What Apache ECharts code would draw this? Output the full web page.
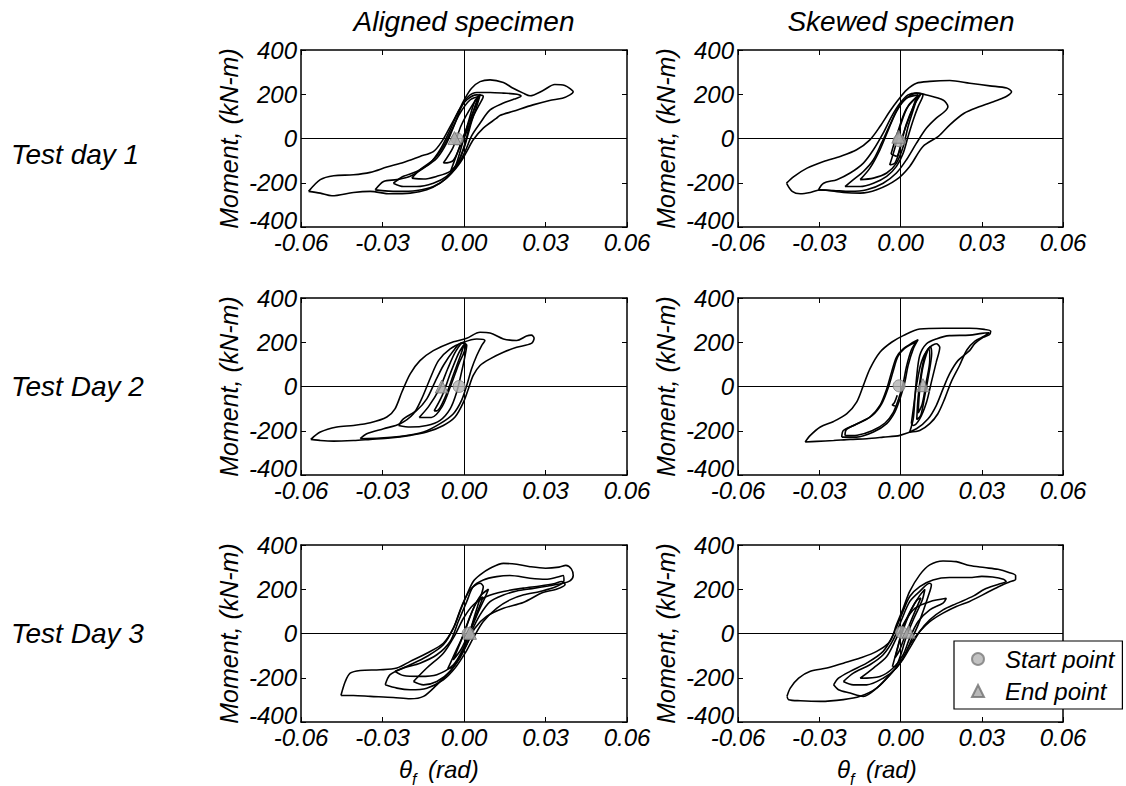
<!DOCTYPE html>
<html>
<head>
<meta charset="utf-8">
<script src="https://cdn.jsdelivr.net/npm/echarts@6/dist/echarts.min.js"></script>
<style>html,body{margin:0;padding:0;background:#fff}#c{width:1126px;height:786px}</style>
</head>
<body>
<div id="c"></div>
<script>
// ---------- DATA (theta [rad], moment [kN-m]) ----------
const columnTitles = ['Aligned specimen', 'Skewed specimen'];
const rowTitles = ['Test day 1', 'Test Day 2', 'Test Day 3'];
const xTickValues = [-0.06, -0.03, 0.00, 0.03, 0.06];
const yTickValues = [-400, -200, 0, 200, 400];
const yAxisName = 'Moment, (kN-m)';
const legendNames = ['Start point', 'End point'];

// Aligned, day 1
const a1Loop1 = [[-0.0572,-239],[-0.0529,-186],[-0.048,-168],[-0.0407,-164],[-0.0345,-153],[-0.0284,-129],[-0.0223,-108],[-0.0162,-81],[-0.0113,-59],[-0.0082,-14],[-0.0051,54],[-0.0021,122],[0.0004,182],[0.0028,227],[0.0059,257],[0.0096,265],[0.0145,253],[0.0181,227],[0.0218,205],[0.0243,193],[0.0291,217],[0.0334,244],[0.0371,240],[0.0395,221],[0.0402,211],[0.039,197],[0.0362,182],[0.0315,172],[0.0254,152],[0.0181,123],[0.0132,104],[0.012,92],[0.0071,47],[0.0034,-6],[0.001,-59],[-0.0015,-111],[-0.0045,-156],[-0.0088,-202],[-0.0137,-232],[-0.0198,-247],[-0.0272,-250],[-0.0345,-239],[-0.0407,-244],[-0.0486,-259],[-0.0529,-247],[-0.0572,-239]];
const a1Loop2 = [[-0.0327,-232],[-0.0296,-194],[-0.0247,-186],[-0.0198,-171],[-0.0149,-134],[-0.01,-89],[-0.0064,-21],[-0.0033,69],[-0.0009,144],[0.0016,190],[0.0047,208],[0.0096,208],[0.0145,205],[0.0195,200],[0.021,192],[0.0185,178],[0.0145,160],[0.0096,129],[0.0059,69],[0.0028,12],[0.0004,-59],[-0.0027,-126],[-0.0064,-179],[-0.0113,-217],[-0.0174,-235],[-0.0247,-239],[-0.0327,-232]];
const a1Loop3 = [[-0.026,-202],[-0.0223,-171],[-0.0174,-149],[-0.0125,-111],[-0.0088,-51],[-0.0051,39],[-0.0021,122],[0.001,174],[0.0047,197],[0.0071,190],[0.0059,159],[0.0034,99],[0.0016,24],[-0.0002,-51],[-0.0027,-119],[-0.0064,-171],[-0.0113,-202],[-0.0174,-217],[-0.0223,-217],[-0.026,-202]];
const a1Loop4 = [[-0.0192,-179],[-0.0162,-141],[-0.0113,-96],[-0.0076,-36],[-0.0045,39],[-0.0015,114],[0.0022,174],[0.0053,190],[0.004,144],[0.0022,69],[0.0004,-21],[-0.0021,-104],[-0.0051,-149],[-0.01,-171],[-0.0149,-183],[-0.0192,-179]];
const a1Loop5 = [[-0.0076,-111],[-0.004,-40],[-0.001,60],[0.003,150],[0.0055,190],[0.005,170],[0.002,80],[-0.001,-20],[-0.004,-100],[-0.0076,-111]];
const a1Loop6 = [[-0.005,-150],[-0.002,-50],[0.001,50],[0.004,170],[0.006,200],[0.004,120],[0.0,0],[-0.003,-120],[-0.005,-150]];
const a1Start = [[-0.0025,-2]];
const a1End = [[-0.0035,2]];

// Skewed, day 1
const s1Loop1 = [[-0.0421,-202],[-0.0394,-172],[-0.0345,-134],[-0.0284,-104],[-0.0223,-81],[-0.0162,-51],[-0.0113,-6],[-0.0076,54],[-0.004,122],[-0.0009,174],[0.0022,219],[0.0059,250],[0.0108,258],[0.0182,262],[0.0256,250],[0.033,238],[0.0392,228],[0.041,211],[0.0392,191],[0.0355,172],[0.029,143],[0.0235,114],[0.0182,62],[0.014,10],[0.0083,-36],[0.0034,-126],[-0.0015,-186],[-0.0088,-232],[-0.0149,-247],[-0.0211,-244],[-0.0296,-232],[-0.0333,-244],[-0.037,-250],[-0.04,-239],[-0.0421,-202]];
const s1Loop2 = [[-0.0303,-232],[-0.0284,-202],[-0.0235,-186],[-0.0186,-156],[-0.0137,-111],[-0.01,-51],[-0.0064,24],[-0.0033,99],[-0.0002,159],[0.0028,197],[0.0059,205],[0.0096,197],[0.0157,174],[0.0175,144],[0.0163,122],[0.0132,92],[0.0096,47],[0.0059,-21],[0.0022,-96],[-0.0015,-156],[-0.0064,-202],[-0.0125,-232],[-0.0186,-239],[-0.0247,-235],[-0.0303,-232]];
const s1Loop3 = [[-0.0205,-217],[-0.0174,-186],[-0.0137,-149],[-0.01,-96],[-0.007,-21],[-0.0039,62],[-0.0009,137],[0.0022,182],[0.0059,205],[0.0083,197],[0.0065,144],[0.0047,84],[0.0028,9],[0.001,-66],[-0.0015,-126],[-0.0051,-171],[-0.01,-202],[-0.0149,-217],[-0.0205,-217]];
const s1Loop4 = [[-0.0149,-186],[-0.0113,-134],[-0.0076,-51],[-0.0045,39],[-0.0015,122],[0.0022,182],[0.0065,197],[0.0047,129],[0.0028,54],[0.001,-36],[-0.0015,-111],[-0.0051,-156],[-0.01,-179],[-0.0149,-186]];
const s1Loop5 = [[-0.004,-120],[-0.002,-40],[0.0,60],[0.003,150],[0.0075,200],[0.005,150],[0.002,60],[0.0,-40],[-0.002,-110],[-0.004,-120]];
const s1Loop6 = [[-0.0035,-70],[-0.001,30],[0.002,130],[0.006,190],[0.004,120],[0.001,20],[-0.0015,-80],[-0.0035,-70]];
const s1Start = [[-0.0005,-10]];
const s1End = [[-0.0008,8]];

// Aligned, day 2
const a2Loop1 = [[-0.0564,-239],[-0.0529,-206],[-0.0468,-183],[-0.0407,-176],[-0.0345,-164],[-0.0284,-138],[-0.0254,-101],[-0.0229,-26],[-0.0198,57],[-0.0162,117],[-0.0113,162],[-0.0051,197],[0.001,218],[0.0059,245],[0.0096,242],[0.0145,215],[0.0194,208],[0.023,228],[0.0248,232],[0.0258,218],[0.0248,195],[0.0194,177],[0.0145,155],[0.0096,125],[0.0059,95],[0.0034,50],[0.0016,-11],[-0.0002,-71],[-0.0033,-138],[-0.0076,-176],[-0.0137,-206],[-0.0198,-221],[-0.0272,-233],[-0.0345,-239],[-0.0407,-244],[-0.048,-247],[-0.0529,-244],[-0.0564,-239]];
const a2Loop2 = [[-0.0382,-236],[-0.0358,-214],[-0.0296,-191],[-0.0235,-168],[-0.0186,-123],[-0.0156,-56],[-0.0125,35],[-0.0094,117],[-0.0051,170],[-0.0002,200],[0.0047,215],[0.0077,208],[0.0065,185],[0.0047,140],[0.0028,80],[0.001,5],[-0.0009,-63],[-0.0039,-123],[-0.0088,-168],[-0.0149,-206],[-0.0223,-224],[-0.0309,-233],[-0.0382,-236]];
const a2Loop3 = [[-0.0241,-176],[-0.0223,-146],[-0.0174,-108],[-0.0137,-56],[-0.0107,20],[-0.0076,95],[-0.0039,162],[-0.0009,197],[0.001,188],[0.0004,140],[-0.0009,65],[-0.0027,-26],[-0.0051,-101],[-0.0088,-153],[-0.0137,-176],[-0.0198,-183],[-0.0241,-176]];
const a2Loop4 = [[-0.0165,-140],[-0.013,-90],[-0.009,-10],[-0.006,80],[-0.003,160],[0.0,200],[0.0005,180],[-0.002,100],[-0.005,0],[-0.008,-90],[-0.012,-140],[-0.0165,-140]];
const a2Loop5 = [[-0.011,-110],[-0.008,-40],[-0.005,60],[-0.002,150],[0.0,190],[-0.001,150],[-0.004,50],[-0.007,-50],[-0.01,-110],[-0.011,-110]];
const a2Start = [[-0.0018,0]];
const a2End = [[-0.0082,0]];

// Skewed, day 2
const s2Loop1 = [[-0.0352,-251],[-0.0333,-221],[-0.0296,-183],[-0.0247,-158],[-0.0198,-123],[-0.0162,-71],[-0.0137,5],[-0.0113,80],[-0.0076,155],[-0.0033,200],[0.001,230],[0.0071,260],[0.0157,263],[0.0255,263],[0.031,258],[0.0333,250],[0.0328,235],[0.0305,222],[0.0275,195],[0.0255,162],[0.0212,117],[0.0181,57],[0.0157,-11],[0.0132,-86],[0.0102,-146],[0.0059,-191],[-0.0002,-221],[-0.0064,-229],[-0.0125,-236],[-0.0186,-239],[-0.0247,-244],[-0.0309,-248],[-0.0352,-251]];
const s2Loop2 = [[-0.0217,-229],[-0.0211,-199],[-0.0174,-176],[-0.0113,-138],[-0.0076,-86],[-0.0051,-11],[-0.0033,65],[-0.0015,132],[0.001,170],[0.0047,200],[0.0065,212],[0.0047,170],[0.0028,95],[0.0016,20],[-0.0002,-56],[-0.0021,-116],[-0.0051,-168],[-0.01,-206],[-0.0162,-229],[-0.0217,-229]];
const s2Loop3 = [[-0.0205,-222],[-0.02,-195],[-0.0165,-172],[-0.0105,-132],[-0.007,-80],[-0.0045,-5],[-0.0027,70],[-0.001,135],[0.0015,172],[0.005,198],[0.006,205],[0.004,165],[0.0022,90],[0.001,15],[-0.0008,-60],[-0.0027,-118],[-0.0057,-165],[-0.0105,-200],[-0.016,-220],[-0.0205,-222]];
const s2Loop4 = [[0.0034,-206],[0.0047,-146],[0.0053,-56],[0.0059,35],[0.0071,140],[0.0096,193],[0.0132,215],[0.0181,230],[0.0255,232],[0.03,240],[0.0328,243],[0.031,228],[0.0275,205],[0.0245,165],[0.0218,95],[0.0187,20],[0.0163,-56],[0.0138,-123],[0.0108,-168],[0.0071,-199],[0.0034,-206]];
const s2Loop5 = [[0.004,-168],[0.0049,-86],[0.0059,5],[0.0077,110],[0.0102,170],[0.0132,193],[0.0145,177],[0.0132,110],[0.0114,20],[0.0096,-71],[0.0071,-146],[0.0047,-176],[0.004,-168]];
const s2Loop6 = [[0.006,-150],[0.0065,-50],[0.0075,50],[0.009,140],[0.011,180],[0.0115,150],[0.0105,60],[0.009,-40],[0.0075,-130],[0.006,-150]];
const s2Loop7 = [[0.0065,-120],[0.0072,0],[0.0085,100],[0.0105,170],[0.0108,120],[0.0095,20],[0.008,-80],[0.0065,-120]];
const s2Hook = [[-0.0012,-40],[-0.0022,-72],[-0.003,-84],[-0.0018,-88]];
const s2Start = [[-0.0005,3]];
const s2End = [[0.0083,6]];

// Aligned, day 3
const a3Loop1 = [[-0.0453,-280],[-0.0437,-217],[-0.0419,-179],[-0.0382,-167],[-0.0309,-164],[-0.0247,-156],[-0.0198,-126],[-0.0137,-89],[-0.0076,-44],[-0.0039,24],[-0.0015,99],[0.001,174],[0.0034,235],[0.0059,265],[0.0096,295],[0.0145,317],[0.0194,313],[0.0243,302],[0.03,295],[0.035,300],[0.0375,308],[0.0395,292],[0.0402,262],[0.039,238],[0.036,226],[0.031,215],[0.025,203],[0.0194,192],[0.0145,174],[0.0096,144],[0.0059,84],[0.0028,9],[0.001,-51],[-0.0015,-111],[-0.0051,-171],[-0.01,-232],[-0.0149,-284],[-0.0198,-295],[-0.026,-289],[-0.0345,-284],[-0.0407,-280],[-0.0453,-280]];
const a3Loop2 = [[-0.029,-232],[-0.0272,-186],[-0.0223,-156],[-0.0162,-134],[-0.01,-96],[-0.0051,-36],[-0.0021,54],[0.001,144],[0.0034,212],[0.0071,242],[0.012,257],[0.0169,262],[0.0243,250],[0.03,245],[0.0345,255],[0.0365,262],[0.0368,240],[0.034,212],[0.028,190],[0.022,175],[0.0169,152],[0.012,114],[0.0071,54],[0.0034,-21],[0.0004,-89],[-0.0033,-156],[-0.0076,-209],[-0.0137,-247],[-0.0198,-254],[-0.0247,-247],[-0.029,-232]];
const a3Loop3 = [[-0.0254,-171],[-0.0198,-141],[-0.0137,-104],[-0.0076,-51],[-0.0039,24],[-0.0009,122],[0.0022,197],[0.0059,227],[0.0071,212],[0.0059,159],[0.004,84],[0.0022,9],[-0.0002,-66],[-0.0039,-141],[-0.01,-186],[-0.0162,-194],[-0.0223,-190],[-0.0254,-171]];
const a3Loop4 = [[-0.0186,-217],[-0.0137,-156],[-0.0076,-89],[-0.0033,-6],[-0.0002,69],[0.0034,129],[0.0083,167],[0.0145,190],[0.0218,205],[0.028,215],[0.033,225],[0.036,235],[0.0372,222],[0.034,200],[0.029,185],[0.0218,140],[0.0145,114],[0.0083,77],[0.004,24],[0.0016,-36],[-0.0015,-104],[-0.0051,-171],[-0.01,-217],[-0.0149,-232],[-0.0186,-217]];
const a3Loop5 = [[-0.006,-160],[-0.003,-80],[0.0,0],[0.003,100],[0.006,170],[0.009,200],[0.008,170],[0.005,90],[0.002,0],[-0.001,-90],[-0.004,-150],[-0.006,-160]];
const a3Loop6 = [[-0.004,-120],[-0.001,-30],[0.002,70],[0.005,150],[0.007,165],[0.005,100],[0.002,10],[-0.001,-70],[-0.004,-120]];
const a3Start = [[0.0015,0]];
const a3End = [[0.0022,3]];

// Skewed, day 3
const s3Loop1 = [[-0.0419,-284],[-0.0407,-247],[-0.0376,-202],[-0.0333,-171],[-0.0272,-156],[-0.0211,-134],[-0.0149,-111],[-0.0088,-81],[-0.0039,-36],[-0.0015,39],[0.001,114],[0.0034,190],[0.0071,265],[0.0108,310],[0.0157,328],[0.0206,325],[0.0255,307],[0.031,298],[0.036,290],[0.04,276],[0.0425,262],[0.0425,245],[0.04,232],[0.036,210],[0.032,185],[0.028,160],[0.0255,145],[0.0206,122],[0.0157,92],[0.0108,54],[0.0071,9],[0.0034,-51],[0.001,-111],[-0.0027,-171],[-0.0088,-247],[-0.0149,-284],[-0.0211,-299],[-0.0296,-307],[-0.037,-304],[-0.0413,-299],[-0.0419,-284]];
const s3Loop2 = [[-0.0247,-232],[-0.0229,-202],[-0.0186,-171],[-0.0125,-134],[-0.0064,-81],[-0.0027,-6],[0.0004,84],[0.0034,167],[0.0071,212],[0.012,242],[0.0181,253],[0.0255,253],[0.03,258],[0.034,255],[0.038,245],[0.039,235],[0.036,222],[0.031,200],[0.027,170],[0.0206,135],[0.0157,107],[0.0108,62],[0.0071,9],[0.0034,-66],[0.0004,-126],[-0.0039,-186],[-0.0088,-247],[-0.0137,-284],[-0.0186,-269],[-0.0229,-254],[-0.0247,-232]];
const s3Loop3 = [[-0.0211,-217],[-0.0174,-179],[-0.0113,-141],[-0.0064,-96],[-0.0027,-29],[0.0004,62],[0.0034,144],[0.0071,190],[0.0108,227],[0.0114,220],[0.0102,167],[0.0083,99],[0.0065,39],[0.004,-29],[0.0016,-96],[-0.0015,-156],[-0.0064,-202],[-0.0125,-232],[-0.0174,-232],[-0.0211,-217]];
const s3Loop4 = [[-0.0149,-202],[-0.01,-156],[-0.0051,-104],[-0.0015,-21],[0.0016,54],[0.0053,114],[0.0108,144],[0.0169,159],[0.0157,137],[0.0108,107],[0.0065,54],[0.0034,-21],[0.001,-96],[-0.0027,-156],[-0.0076,-194],[-0.0149,-202]];
const s3Loop5 = [[-0.003,-150],[-0.001,-60],[0.001,30],[0.004,110],[0.007,170],[0.009,200],[0.008,150],[0.005,70],[0.002,-20],[0.0,-100],[-0.002,-150],[-0.003,-150]];
const s3Loop6 = [[-0.002,-110],[0.0,-20],[0.003,80],[0.006,150],[0.0075,160],[0.005,90],[0.002,0],[-0.0005,-80],[-0.002,-110]];
const s3Start = [[0.0004,5]];
const s3End = [[0.003,8]];

// ---------- LAYOUT / STYLE ----------
const FONT = "'Liberation Sans', Arial, Helvetica, sans-serif";
const panels = [
  { loops: [a1Loop1, a1Loop2, a1Loop3, a1Loop4, a1Loop5, a1Loop6], start: a1Start, end: a1End },
  { loops: [s1Loop1, s1Loop2, s1Loop3, s1Loop4, s1Loop5, s1Loop6], start: s1Start, end: s1End },
  { loops: [a2Loop1, a2Loop2, a2Loop3, a2Loop4, a2Loop5], start: a2Start, end: a2End },
  { loops: [s2Loop1, s2Loop2, s2Loop3, s2Loop4, s2Loop5, s2Loop6, s2Loop7, s2Hook], start: s2Start, end: s2End },
  { loops: [a3Loop1, a3Loop2, a3Loop3, a3Loop4, a3Loop5, a3Loop6], start: a3Start, end: a3End },
  { loops: [s3Loop1, s3Loop2, s3Loop3, s3Loop4, s3Loop5, s3Loop6], start: s3Start, end: s3End }
];
const colLeft = [301, 738];
const colWidth = [326, 325];
const rowTop = [50, 298, 545];
const plotH = 177;

const grids = [], xAxes = [], yAxes = [], series = [];
const xMin = xTickValues[0], xMax = xTickValues[xTickValues.length - 1];
const xInt = xTickValues[1] - xTickValues[0];
const yMin = yTickValues[0], yMax = yTickValues[yTickValues.length - 1];
const yInt = yTickValues[1] - yTickValues[0];
const axisLineStyle = { color: '#000', width: 1.5 };
const labelStyle = { color: '#000', fontSize: 24, fontStyle: 'italic', fontFamily: FONT };

panels.forEach((p, g) => {
  const col = g % 2, row = Math.floor(g / 2);
  grids.push({ left: colLeft[col], top: rowTop[row], width: colWidth[col], height: plotH, containLabel: false });
  const base = { gridIndex: g, type: 'value', min: xMin, max: xMax, interval: xInt,
    axisLine: { show: true, onZero: false, lineStyle: axisLineStyle },
    axisTick: { show: true, inside: true, length: 5, lineStyle: { color: '#000', width: 1 } },
    splitLine: { show: false } };
  xAxes.push(Object.assign({}, base, { position: 'bottom',
    axisLabel: Object.assign({ margin: 3, formatter: v => (Math.abs(v) < 1e-9 ? 0 : v).toFixed(2), showMinLabel: true, showMaxLabel: true }, labelStyle) }));
  xAxes.push(Object.assign({}, base, { position: 'top', axisLabel: { show: false } }));
  const ybase = { gridIndex: g, type: 'value', min: yMin, max: yMax, interval: yInt,
    axisLine: { show: true, onZero: false, lineStyle: axisLineStyle },
    axisTick: { show: true, inside: true, length: 5, lineStyle: { color: '#000', width: 1 } },
    splitLine: { show: false } };
  yAxes.push(Object.assign({}, ybase, { position: 'left',
    name: yAxisName, nameLocation: 'middle', nameGap: 60, nameRotate: 90,
    nameTextStyle: { color: '#000', fontSize: 25, fontStyle: 'italic', fontFamily: FONT },
    axisLabel: Object.assign({ margin: 4, showMinLabel: true, showMaxLabel: true,
      formatter: v => (v === yMin ? '{low|' + v + '}' : String(v)),
      rich: { low: { fontSize: 24, fontStyle: 'italic', fontFamily: FONT, color: '#000', padding: [0, 0, 14, 0] } } }, labelStyle) }));
  yAxes.push(Object.assign({}, ybase, { position: 'right', axisLabel: { show: false } }));

  p.loops.forEach((loop, i) => {
    const s = { type: 'line', xAxisIndex: 2 * g, yAxisIndex: 2 * g, data: loop,
      showSymbol: false, symbol: 'none', smooth: 0.3, silent: true, animation: false, z: 2,
      lineStyle: { color: '#000', width: 1.6 } };
    if (i === 0) {
      s.markLine = { silent: true, symbol: ['none', 'none'], label: { show: false }, animation: false,
        lineStyle: { color: '#000', width: 1, type: 'solid' },
        data: [{ xAxis: 0 }, { yAxis: 0 }] };
    }
    series.push(s);
  });
  series.push({ name: legendNames[0], type: 'scatter', xAxisIndex: 2 * g, yAxisIndex: 2 * g, data: p.start,
    symbol: 'circle', symbolSize: 12, z: 5, animation: false,
    itemStyle: { color: '#b3b3b3', borderColor: '#7a7a7a', borderWidth: 1 } });
  series.push({ name: legendNames[1], type: 'scatter', xAxisIndex: 2 * g, yAxisIndex: 2 * g, data: p.end,
    symbol: 'triangle', symbolSize: 13, z: 6, animation: false,
    itemStyle: { color: '#a8a8a8', borderColor: '#707070', borderWidth: 1 } });
});

const textItalic = (txt, x, y, size, align) => ({ type: 'text', x: x, y: y, silent: true,
  style: { text: txt, fill: '#000', fontSize: size, fontStyle: 'italic', fontFamily: FONT,
    textAlign: align || 'center', textVerticalAlign: 'middle' } });

const graphics = [
  textItalic(columnTitles[0], 464, 21, 28),
  textItalic(columnTitles[1], 901, 21, 28),
  textItalic(rowTitles[0], 11, 154, 28, 'left'),
  textItalic(rowTitles[1], 11, 386, 28, 'left'),
  textItalic(rowTitles[2], 11, 633, 28, 'left')
];
[399, 837].forEach(x0 => {
  graphics.push(textItalic('\u03B8', x0, 769, 24, 'left'));
  graphics.push(textItalic('f', x0 + 13, 779, 16, 'left'));
  graphics.push(textItalic('(rad)', x0 + 29, 769, 24, 'left'));
});

const chart = echarts.init(document.getElementById('c'), null, { renderer: 'svg' });
chart.setOption({
  animation: false,
  backgroundColor: '#fff',
  grid: grids,
  xAxis: xAxes,
  yAxis: yAxes,
  series: series,
  legend: {
    data: [{ name: legendNames[0], icon: 'circle' }, { name: legendNames[1], icon: 'triangle' }],
    orient: 'vertical', left: 954, top: 641,
    backgroundColor: '#fff', borderColor: '#000', borderWidth: 1.2,
    padding: [4, 8, 4, 17], itemGap: 4, itemWidth: 12, itemHeight: 12,
    selectedMode: false,
    textStyle: { color: '#000', fontSize: 24, fontStyle: 'italic', fontFamily: FONT, lineHeight: 28, padding: [0, 0, 0, 16] }
  },
  graphic: graphics
});
</script>
</body>
</html>
